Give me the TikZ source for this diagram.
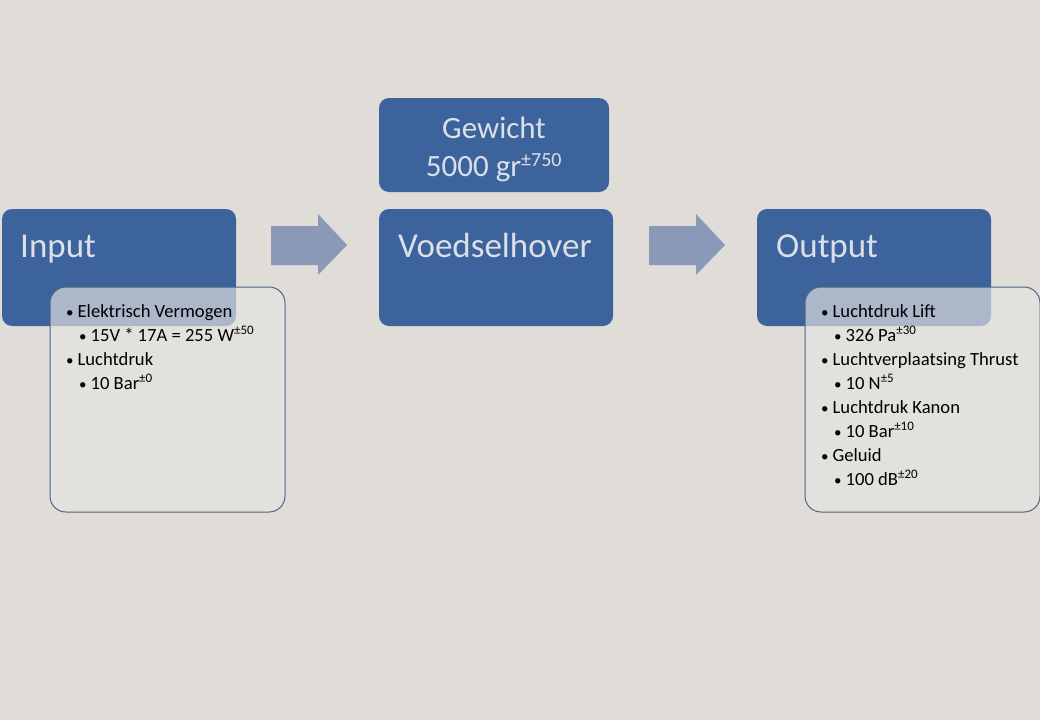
\documentclass[tikz,border=0pt]{standalone}
\usepackage{fontspec}
\setmainfont{Carlito}
\begin{document}
\begin{tikzpicture}[x=1pt,y=-1pt,
  bluebox/.style={fill=boxblue,rounded corners=10pt},
  listbox/.style={draw=listedge,line width=1pt,fill=listfill,fill opacity=0.66,rounded corners=16pt},
  title/.style={text=titletext,font=\fontsize{35}{42}\selectfont,anchor=base west,inner sep=0pt},
  lvlone/.style={font=\fontsize{18.6}{22}\selectfont,anchor=base west,inner sep=0pt},
  fatarrow/.style={fill=arrowcol}]
\definecolor{bg}{RGB}{224,221,217}
\definecolor{boxblue}{RGB}{61,99,157}
\definecolor{titletext}{RGB}{218,223,232}
\definecolor{listedge}{RGB}{72,102,132}
\definecolor{listfill}{RGB}{230,228,226}
\definecolor{arrowcol}{RGB}{138,153,184}
\newcommand{\tol}[1]{\textsuperscript{\fontsize{13}{14}\selectfont ±#1}}
\newcommand{\bul}{{\fontsize{15}{16}\selectfont •}\hspace{4pt}}
\useasboundingbox (0,0) rectangle (1040,720);
\fill[bg] (0,0) rectangle (1040,720);
% blue boxes
\path[bluebox] (2,209) rectangle (236,326);
\node[title] (inp) at (20,257) {Input};
\path[bluebox] (379,98) rectangle (609,192);
\node[text=titletext,font=\fontsize{31}{37}\selectfont,anchor=base,inner sep=0pt] (gew) at (494,138) {Gewicht};
\node[text=titletext,font=\fontsize{31}{37}\selectfont,anchor=base,inner sep=0pt] (gew2) at (494,176) {5000 gr\textsuperscript{\fontsize{20}{22}\selectfont ±750}};
\path[bluebox] (379,209) rectangle (613,326);
\node[title] (voe) at (398,257) {Voedselhover};
\path[bluebox] (757,209) rectangle (991,326);
\node[title] (out) at (776,257) {Output};
% arrows
\path[fatarrow] (271,226) -- (318,226) -- (318,214) -- (347,245) -- (318,275) -- (318,265) -- (271,265) -- cycle;
\path[fatarrow] (649,226) -- (696,226) -- (696,214) -- (725,245) -- (696,275) -- (696,265) -- (649,265) -- cycle;
% list boxes
\path[listbox] (50,287) rectangle (285,512);
\path[listbox] (805,287) rectangle (1040,512);
% input list
\node[lvlone] (i1) at (66,317) {\bul Elektrisch Vermogen};
\node[lvlone] (i2) at (79,341) {\bul 15V * 17A = 255 W\tol{50}};
\node[lvlone] (i3) at (66,365) {\bul Luchtdruk};
\node[lvlone] (i4) at (79,389) {\bul 10 Bar\tol{0}};
% output list
\node[lvlone] (o1) at (821,317) {\bul Luchtdruk Lift};
\node[lvlone] (o2) at (834,341) {\bul 326 Pa\tol{30}};
\node[lvlone] (o3) at (821,365) {\bul Luchtverplaatsing Thrust};
\node[lvlone] (o4) at (834,389) {\bul 10 N\tol{5}};
\node[lvlone] (o5) at (821,413) {\bul Luchtdruk Kanon};
\node[lvlone] (o6) at (834,437) {\bul 10 Bar\tol{10}};
\node[lvlone] (o7) at (821,461) {\bul Geluid};
\node[lvlone] (o8) at (834,485) {\bul 100 dB\tol{20}};
\end{tikzpicture}
\end{document}
